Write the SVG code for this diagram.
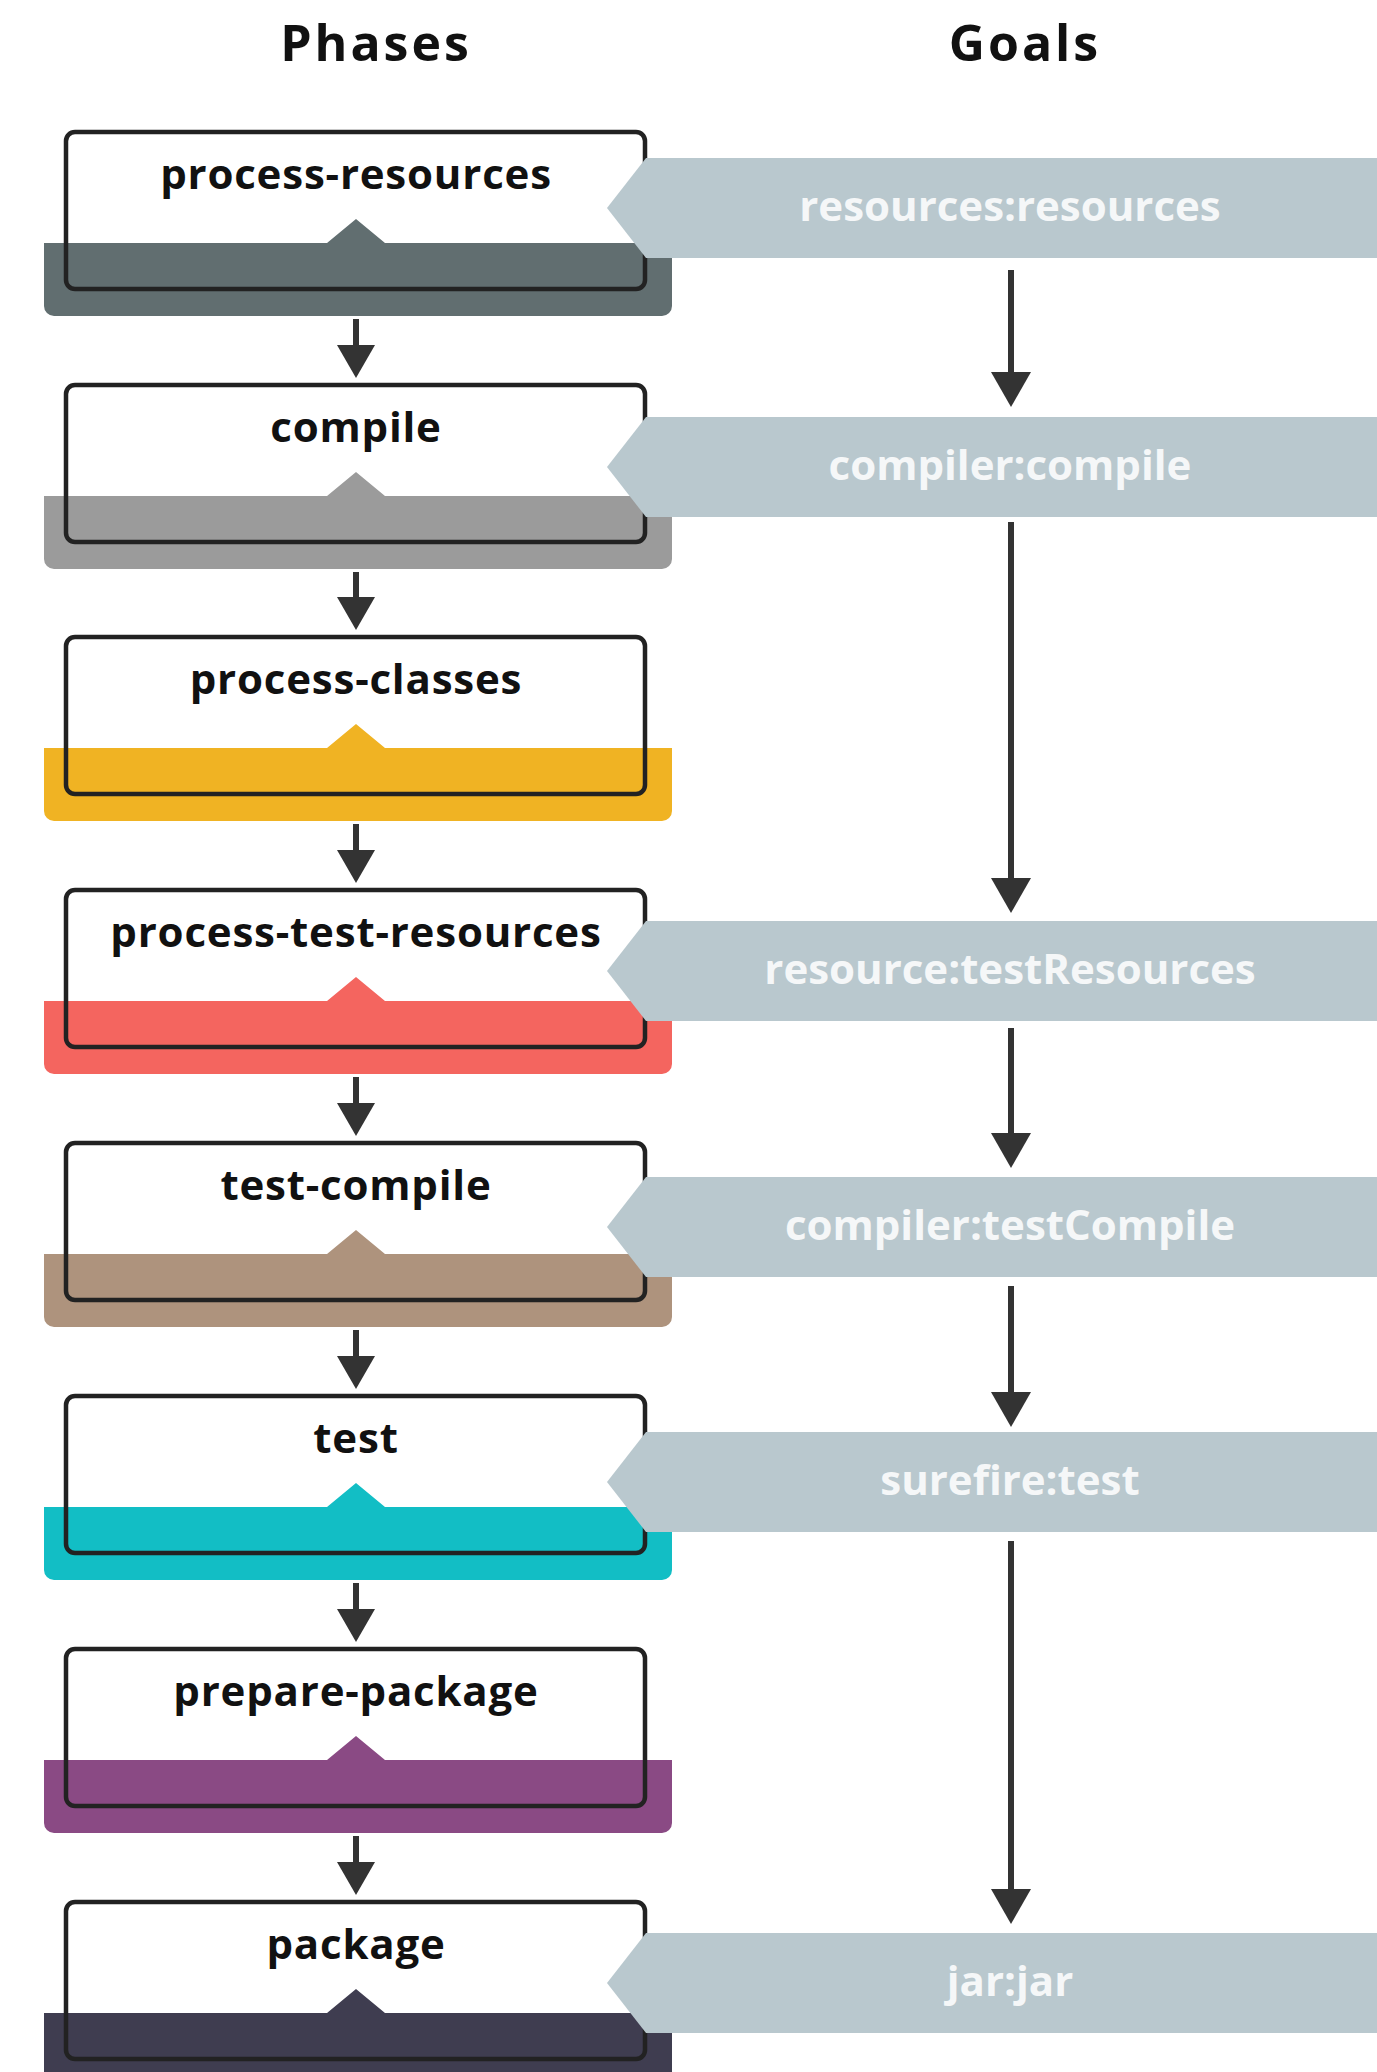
<svg xmlns="http://www.w3.org/2000/svg" xmlns:xlink="http://www.w3.org/1999/xlink" width="1377" height="2072" viewBox="0 0 1377 2072">
  <style>
    .hdr { font-family: "Open Sans", "Liberation Sans", sans-serif; font-weight: 700; font-size: 50px; letter-spacing: 3px; fill: #111; text-anchor: middle; }
    .phase-label { font-family: "Open Sans", "Liberation Sans", sans-serif; font-weight: 700; font-size: 42px; letter-spacing: 0.8px; fill: #111; text-anchor: middle; }
    .goal-label { font-family: "Open Sans", "Liberation Sans", sans-serif; font-weight: 700; font-size: 42px; fill: #f5f7f8; text-anchor: middle; }
    .frame { fill: none; stroke: #222; stroke-width: 4.5; }
    .goal { fill: #b9c8ce; }
    .link { stroke: #333; stroke-width: 6; fill: none; }
  </style>
  <defs>
    <!-- coloured footer band with the small peak, relative to the phase top -->
    <path id="band" d="M44,111 H327 L356,87 L385,111 H672 V174 A10,10 0 0 1 662,184 H54 A10,10 0 0 1 44,174 Z"/>
    <rect id="frame" x="66" y="0" width="579" height="157" rx="9"/>
    <!-- goal tag pointing left, relative to its top -->
    <polygon id="tag" points="607,50 646,0 1377,0 1377,100 646,100"/>
    <marker id="head-phase" viewBox="0 0 33 38" refX="23" refY="19" markerWidth="33" markerHeight="38" markerUnits="userSpaceOnUse" orient="auto">
      <path d="M0,0 L33,19 L0,38 Z" fill="#333"/>
    </marker>
    <marker id="head-goal" viewBox="0 0 35 40" refX="25" refY="20" markerWidth="35" markerHeight="40" markerUnits="userSpaceOnUse" orient="auto">
      <path d="M0,0 L35,20 L0,40 Z" fill="#333"/>
    </marker>
  </defs>

  <rect x="0" y="0" width="1377" height="2072" fill="#ffffff"/>

  <g id="headers">
    <text class="hdr" x="376" y="61">Phases</text>
    <text class="hdr" x="1025" y="61">Goals</text>
  </g>

  <g id="phases">
    <g id="phase-process-resources" transform="translate(0,132)">
      <use href="#band" fill="#616e70"/>
      <use href="#frame" class="frame"/>
      <text class="phase-label" x="356" y="57">process-resources</text>
    </g>
    <g id="phase-compile" transform="translate(0,385)">
      <use href="#band" fill="#9b9b9b"/>
      <use href="#frame" class="frame"/>
      <text class="phase-label" x="356" y="57">compile</text>
    </g>
    <g id="phase-process-classes" transform="translate(0,637)">
      <use href="#band" fill="#f0b323"/>
      <use href="#frame" class="frame"/>
      <text class="phase-label" x="356" y="57">process-classes</text>
    </g>
    <g id="phase-process-test-resources" transform="translate(0,890)">
      <use href="#band" fill="#f4655f"/>
      <use href="#frame" class="frame"/>
      <text class="phase-label" x="356" y="57">process-test-resources</text>
    </g>
    <g id="phase-test-compile" transform="translate(0,1143)">
      <use href="#band" fill="#ae937d"/>
      <use href="#frame" class="frame"/>
      <text class="phase-label" x="356" y="57">test-compile</text>
    </g>
    <g id="phase-test" transform="translate(0,1396)">
      <use href="#band" fill="#12bec5"/>
      <use href="#frame" class="frame"/>
      <text class="phase-label" x="356" y="57">test</text>
    </g>
    <g id="phase-prepare-package" transform="translate(0,1649)">
      <use href="#band" fill="#8a4a84"/>
      <use href="#frame" class="frame"/>
      <text class="phase-label" x="356" y="57">prepare-package</text>
    </g>
    <g id="phase-package" transform="translate(0,1902)">
      <use href="#band" fill="#3f3d50"/>
      <use href="#frame" class="frame"/>
      <text class="phase-label" x="356" y="57">package</text>
    </g>
  </g>

  <g id="goals">
    <g id="goal-resources-resources" transform="translate(0,158)">
      <use href="#tag" class="goal"/>
      <text class="goal-label" x="1010" y="63">resources:resources</text>
    </g>
    <g id="goal-compiler-compile" transform="translate(0,417)">
      <use href="#tag" class="goal"/>
      <text class="goal-label" x="1010" y="63">compiler:compile</text>
    </g>
    <g id="goal-resource-testResources" transform="translate(0,921)">
      <use href="#tag" class="goal"/>
      <text class="goal-label" x="1010" y="63">resource:testResources</text>
    </g>
    <g id="goal-compiler-testCompile" transform="translate(0,1177)">
      <use href="#tag" class="goal"/>
      <text class="goal-label" x="1010" y="63">compiler:testCompile</text>
    </g>
    <g id="goal-surefire-test" transform="translate(0,1432)">
      <use href="#tag" class="goal"/>
      <text class="goal-label" x="1010" y="63">surefire:test</text>
    </g>
    <g id="goal-jar-jar" transform="translate(0,1933)">
      <use href="#tag" class="goal"/>
      <text class="goal-label" x="1010" y="63">jar:jar</text>
    </g>
  </g>

  <g id="connectors">
    <!-- phase sequence -->
    <line class="link" x1="356" y1="319" x2="356" y2="368" marker-end="url(#head-phase)"/>
    <line class="link" x1="356" y1="572" x2="356" y2="620" marker-end="url(#head-phase)"/>
    <line class="link" x1="356" y1="824" x2="356" y2="873" marker-end="url(#head-phase)"/>
    <line class="link" x1="356" y1="1077" x2="356" y2="1126" marker-end="url(#head-phase)"/>
    <line class="link" x1="356" y1="1330" x2="356" y2="1379" marker-end="url(#head-phase)"/>
    <line class="link" x1="356" y1="1583" x2="356" y2="1632" marker-end="url(#head-phase)"/>
    <line class="link" x1="356" y1="1836" x2="356" y2="1885" marker-end="url(#head-phase)"/>
    <!-- goal sequence -->
    <line class="link" x1="1011" y1="270" x2="1011" y2="397" marker-end="url(#head-goal)"/>
    <line class="link" x1="1011" y1="522" x2="1011" y2="903" marker-end="url(#head-goal)"/>
    <line class="link" x1="1011" y1="1028" x2="1011" y2="1158" marker-end="url(#head-goal)"/>
    <line class="link" x1="1011" y1="1286" x2="1011" y2="1417" marker-end="url(#head-goal)"/>
    <line class="link" x1="1011" y1="1541" x2="1011" y2="1914" marker-end="url(#head-goal)"/>
  </g>
</svg>
